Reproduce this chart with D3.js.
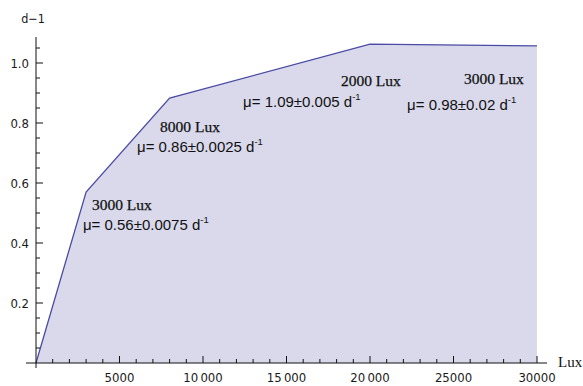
<!DOCTYPE html>
<html>
<head>
<meta charset="utf-8">
<script src="https://cdn.jsdelivr.net/npm/d3@7"></script>
<style>
  body { margin: 0; background: #fff; }
</style>
</head>
<body>
<div id="chart"></div>
<script>
const lux = [0, 3000, 8000, 20000, 30000];
const rate = [0, 0.57, 0.883, 1.063, 1.057];

const xMajor = [5000, 10000, 15000, 20000, 25000, 30000];
const xLabels = ["5000", "10\u2009000", "15\u2009000", "20\u2009000", "25000", "30000"];
const yMajor = [0.2, 0.4, 0.6, 0.8, 1.0];
const yLabels = ["0.2", "0.4", "0.6", "0.8", "1.0"];

const luxNotes = ["3000 Lux", "8000 Lux", "2000 Lux", "3000 Lux"];
const muNotes = ["μ= 0.56±0.0075 d", "μ= 0.86±0.0025 d", "μ= 1.09±0.005 d", "μ= 0.98±0.02 d"];
// where each note sits, in data units (left edge, baseline)
const luxAt = [[3350, 0.51], [7430, 0.77], [18260, 0.923], [25630, 0.93]];
const muAt = [[2810, 0.443], [6050, 0.703], [12400, 0.853], [22220, 0.843]];

const width = 583;
const height = 386;

const x = d3.scaleLinear().domain([0, 30000]).range([36, 537]);
const y = d3.scaleLinear().domain([0, 1]).range([363, 63]);

const svg = d3.select("#chart").append("svg")
  .attr("width", width)
  .attr("height", height);

const data = lux.map((d, i) => ({lux: d, rate: rate[i]}));

svg.append("path")
  .datum(data)
  .attr("fill", "#d9d9eb")
  .attr("stroke", "none")
  .attr("d", d3.area().x(d => x(d.lux)).y0(y(0)).y1(d => y(d.rate)));

svg.append("path")
  .datum(data)
  .attr("fill", "none")
  .attr("stroke", "#4b4ba6")
  .attr("stroke-width", 1.3)
  .attr("d", d3.line().x(d => x(d.lux)).y(d => y(d.rate)));

// axes
const axis = svg.append("g").attr("stroke", "#111").attr("stroke-width", 1);

axis.append("line")
  .attr("x1", 26).attr("x2", 547)
  .attr("y1", y(0)).attr("y2", y(0));
axis.append("line")
  .attr("x1", x(0)).attr("x2", x(0))
  .attr("y1", 37).attr("y2", 368);

axis.selectAll(".xt")
  .data(d3.range(1000, 30001, 1000))
  .join("line")
  .attr("x1", d => x(d)).attr("x2", d => x(d))
  .attr("y1", y(0))
  .attr("y2", d => y(0) - (d % 5000 === 0 ? 7 : 4));

axis.selectAll(".yt")
  .data(d3.range(1, 22).map(i => i * 0.05))
  .join("line")
  .attr("y1", d => y(d)).attr("y2", d => y(d))
  .attr("x1", x(0))
  .attr("x2", (d, i) => x(0) + ((i + 1) % 4 === 0 ? 7 : 4));

svg.selectAll(".xl")
  .data(xMajor)
  .join("text")
  .attr("x", d => x(d))
  .attr("y", 382)
  .attr("text-anchor", "middle")
  .attr("font-family", "'DejaVu Sans Condensed', 'DejaVu Sans'")
  .attr("font-size", 13)
  .attr("fill", "#1a1a1a")
  .text((d, i) => xLabels[i]);

svg.selectAll(".yl")
  .data(yMajor)
  .join("text")
  .attr("x", 29)
  .attr("y", d => y(d) + 5)
  .attr("text-anchor", "end")
  .attr("font-family", "'DejaVu Sans Condensed', 'DejaVu Sans'")
  .attr("font-size", 13)
  .attr("fill", "#1a1a1a")
  .text((d, i) => yLabels[i]);

svg.append("text")
  .attr("x", 33).attr("y", 23)
  .attr("text-anchor", "middle")
  .attr("font-family", "'DejaVu Sans Condensed', 'DejaVu Sans'")
  .attr("font-size", 12.5)
  .attr("fill", "#1a1a1a")
  .text("d\u22121");

svg.append("text")
  .attr("x", 558).attr("y", 367)
  .attr("font-family", "Liberation Serif")
  .attr("font-size", 15)
  .attr("fill", "#111")
  .text("Lux");

// notes
svg.selectAll(".lux")
  .data(luxNotes)
  .join("text")
  .attr("x", (d, i) => x(luxAt[i][0]))
  .attr("y", (d, i) => y(luxAt[i][1]))
  .attr("font-family", "Liberation Serif")
  .attr("font-size", 15.5)
  .attr("fill", "#111")
  .attr("stroke", "#111")
  .attr("stroke-width", 0.25)
  .text(d => d);

const mu = svg.selectAll(".mu")
  .data(muNotes)
  .join("text")
  .attr("x", (d, i) => x(muAt[i][0]))
  .attr("y", (d, i) => y(muAt[i][1]))
  .attr("font-family", "Liberation Sans")
  .attr("font-size", 15)
  .attr("fill", "#111");
mu.append("tspan").text(d => d);
mu.append("tspan")
  .attr("dy", -7)
  .attr("font-size", 9.5)
  .text("-1");
</script>
</body>
</html>
